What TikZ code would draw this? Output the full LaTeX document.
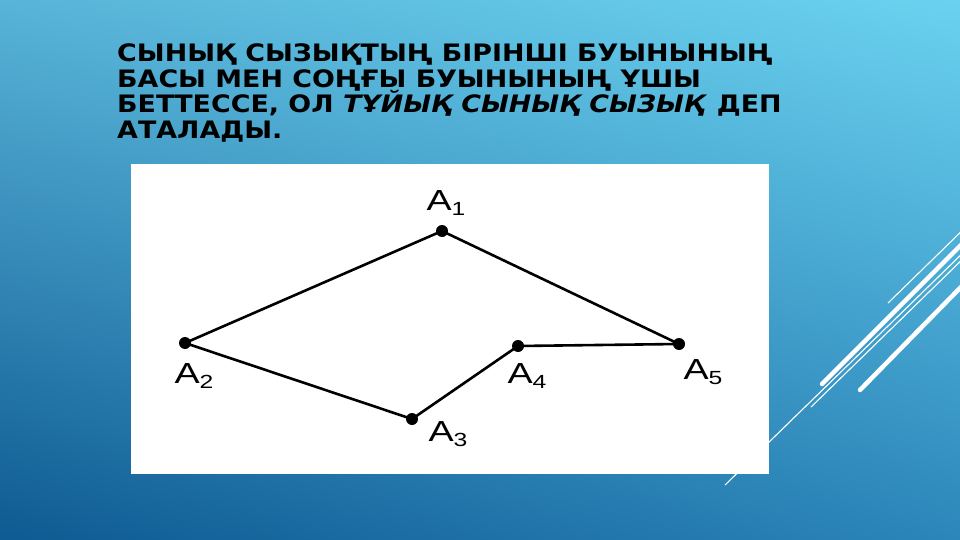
\documentclass[tikz,border=0pt]{standalone}
\usepackage{fontspec}
\usetikzlibrary{shadings}
\newfontfamily\titlefont{DejaVu Sans Bold}[ItalicFont={DejaVu Sans Bold Oblique}]
\newfontfamily\ptfont{Liberation Sans}
\definecolor{bgtl}{HTML}{58B4D8}
\definecolor{bgtr}{HTML}{6AD2F0}
\definecolor{bgbl}{HTML}{0E5A92}
\definecolor{bgbr}{HTML}{2C86BA}
\newcommand{\vname}[1]{A\raisebox{-5pt}{\fontsize{19}{19}\selectfont #1}}
\tikzset{
  vertex/.style={circle, fill=black, inner sep=0pt, minimum size=12pt},
  side/.style={line width=2.6pt},
  ptlabel/.style={font=\ptfont\fontsize{29}{29}\selectfont, inner sep=0pt, transform shape, xscale=1.3},
  titleline/.style={font=\titlefont\fontsize{24}{25}\selectfont, anchor=base west, inner sep=0pt, transform shape, xscale=1.12},
  thinline/.style={white, line width=1.1pt},
  thickline/.style={white, line width=4.5pt, line cap=round},
}

\begin{document}
\begin{tikzpicture}[x=1pt, y=-1pt]
\useasboundingbox (0,0) rectangle (960,540);
\clip (0,0) rectangle (960,540);
\shade[upper left=bgtl, upper right=bgtr, lower left=bgbl, lower right=bgbr] (0,0) rectangle (960,540);

% decoration lines on the right
\draw[thinline] (725,485) -- (970,246);
\draw[thinline] (888,303) -- (970,223);
\draw[thinline] (811,407) -- (970,252);
\draw[thickline] (822,384) -- (962,244);
\draw[thickline] (860,390) -- (962,286);

% title
\node[titleline] (t1) at (117,62) {СЫНЫҚ СЫЗЫҚТЫҢ БІРІНШІ БУЫНЫНЫҢ};
\node[titleline] (t2) at (117,87.5) {БАСЫ МЕН СОҢҒЫ БУЫНЫНЫҢ ҰШЫ};
\node[titleline] (t3) at (117,113) {БЕТТЕССЕ, ОЛ \textit{ТҰЙЫҚ СЫНЫҚ СЫЗЫҚ} ДЕП};
\node[titleline] (t4) at (117,138.5) {АТАЛАДЫ.};

% picture panel
\fill[white] (131,164) rectangle (769,474);

% closed broken line
\node[vertex] (a1) at (442,231) {};
\node[vertex] (a2) at (185,343) {};
\node[vertex] (a3) at (412,419) {};
\node[vertex] (a4) at (518,346) {};
\node[vertex] (a5) at (679,344) {};
\draw[side] (a1.center) -- (a2.center) -- (a3.center) -- (a4.center) -- (a5.center) -- (a1.center);

\node[ptlabel] (l1) at (446,203) {\vname{1}};
\node[ptlabel] (l2) at (194,376) {\vname{2}};
\node[ptlabel] (l3) at (448,434) {\vname{3}};
\node[ptlabel] (l4) at (527,376) {\vname{4}};
\node[ptlabel] (l5) at (703,372) {\vname{5}};
\end{tikzpicture}
\end{document}
